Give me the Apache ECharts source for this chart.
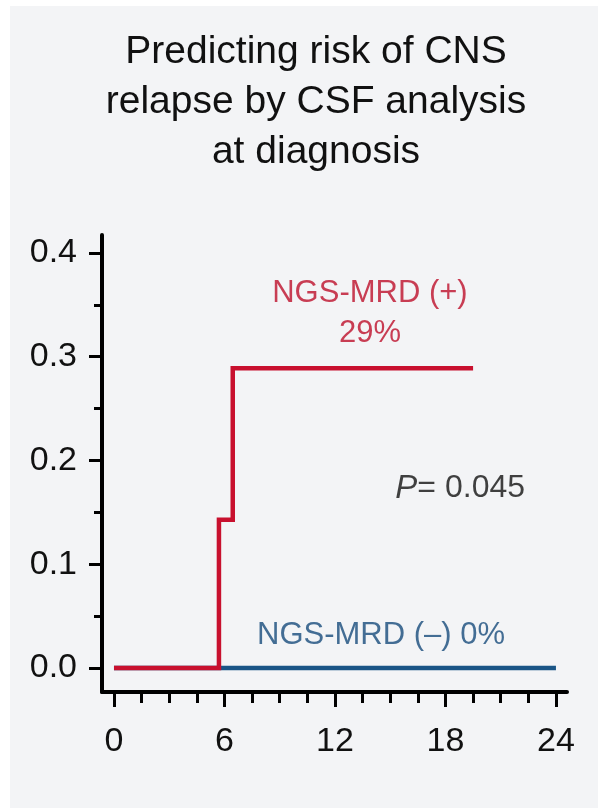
<!DOCTYPE html>
<html>
<head>
<meta charset="utf-8">
<script src="https://cdn.jsdelivr.net/npm/echarts@6/dist/echarts.min.js"></script>
<style>
  html, body { margin: 0; padding: 0; background: #ffffff; }
  #panel { position: absolute; left: 10px; top: 6px; right: 0; bottom: 0; background: #f3f4f6; }
  #main { position: absolute; left: 0; top: 0; width: 598px; height: 808px; }
</style>
</head>
<body>
<div id="panel"></div>
<div id="main"></div>
<script>
// ---- data ----
const titleLines = ['Predicting risk of CNS', 'relapse by CSF analysis', 'at diagnosis'];
const xMajorTicks = [0, 6, 12, 18, 24];
const xMinorTicks = [1.5, 3, 4.5, 7.5, 9, 10.5, 13.5, 15, 16.5, 19.5, 21, 22.5];
const yMajorTicks = [0, 0.1, 0.2, 0.3, 0.4];
const yMinorTicks = [0.05, 0.15, 0.25, 0.35];
// cumulative incidence step curves: [months, risk]
const mrdPositive = [[0, 0], [5.7, 0.143], [6.45, 0.289], [19.5, 0.289]];
const mrdNegative = [[0, 0], [24, 0]];
const annotations = [
  { name: 'NGS-MRD (+)\n29%', value: [13.9, 0.342], color: '#bd0f2b' },
  { name: 'P', value: [18.8, 0.173], color: '#111111' },
  { name: 'NGS-MRD (–) 0%', value: [14.5, 0.031], color: '#174b7c' }
];

const FONT = '"Liberation Sans", Arial, Helvetica, sans-serif';
const chart = echarts.init(document.getElementById('main'), null, { renderer: 'canvas' });

const xRange = { min: -0.65, max: 24.6 };
const yRange = { min: -0.0231, max: 0.4173 };

const option = {
  backgroundColor: 'transparent',
  animation: false,
  title: {
    text: titleLines.join('\n'),
    left: 311,
    top: 22,
    textAlign: 'center',
    textStyle: { fontFamily: FONT, fontSize: 39, fontWeight: 'normal', color: '#111', lineHeight: 50, align: 'center' }
  },
  grid: { left: 102, right: 31, top: 235, bottom: 116, containLabel: false },
  xAxis: [
    {
      type: 'value', position: 'bottom', min: xRange.min, max: xRange.max,
      axisLine: { show: true, onZero: false, lineStyle: { color: '#000', width: 4 } },
      axisTick: { show: true, customValues: xMajorTicks, length: 15, lineStyle: { color: '#000', width: 3 } },
      axisLabel: { show: true, customValues: xMajorTicks, margin: 33, fontFamily: FONT, fontSize: 34, color: '#111' },
      splitLine: { show: false }
    },
    {
      type: 'value', position: 'bottom', min: xRange.min, max: xRange.max,
      axisLine: { show: false, onZero: false },
      axisTick: { show: true, customValues: xMinorTicks, length: 11, lineStyle: { color: '#000', width: 3 } },
      axisLabel: { show: false },
      splitLine: { show: false }
    }
  ],
  yAxis: [
    {
      type: 'value', position: 'left', min: yRange.min, max: yRange.max,
      axisLine: { show: true, onZero: false, lineStyle: { color: '#000', width: 4 } },
      axisTick: { show: true, customValues: yMajorTicks, length: 13, lineStyle: { color: '#000', width: 3 } },
      axisLabel: { show: true, customValues: yMajorTicks, margin: 25, fontFamily: FONT, fontSize: 34, color: '#111',
                   formatter: v => v.toFixed(1) },
      splitLine: { show: false }
    },
    {
      type: 'value', position: 'left', min: yRange.min, max: yRange.max,
      axisLine: { show: false, onZero: false },
      axisTick: { show: true, customValues: yMinorTicks, length: 8, lineStyle: { color: '#000', width: 3 } },
      axisLabel: { show: false },
      splitLine: { show: false }
    }
  ],
  series: [
    {
      name: 'NGS-MRD (-)', type: 'line', data: mrdNegative, showSymbol: false, symbol: 'none',
      lineStyle: { color: '#1a5586', width: 4.5 }, z: 2
    },
    {
      name: 'NGS-MRD (+)', type: 'line', data: mrdPositive, step: 'end', showSymbol: false, symbol: 'none',
      lineStyle: { color: '#c8102e', width: 4.5, join: 'miter', cap: 'butt' }, z: 3
    },
    {
      name: 'annotations', type: 'scatter', symbolSize: 0, z: 4,
      data: annotations.map(a => ({
        name: a.name, value: a.value,
        label: {
          show: true, position: 'inside', align: 'center', verticalAlign: 'middle',
          fontFamily: FONT, fontSize: 31, color: a.color, lineHeight: 40,
          formatter: a.name === 'P' ? '{i|P}{n|= 0.045}' : a.name,
          rich: {
            i: { fontFamily: FONT, fontSize: 33, fontStyle: 'italic', color: a.color },
            n: { fontFamily: FONT, fontSize: 32, color: a.color }
          }
        }
      }))
    }
  ]
};
chart.setOption(option);
</script>
</body>
</html>
